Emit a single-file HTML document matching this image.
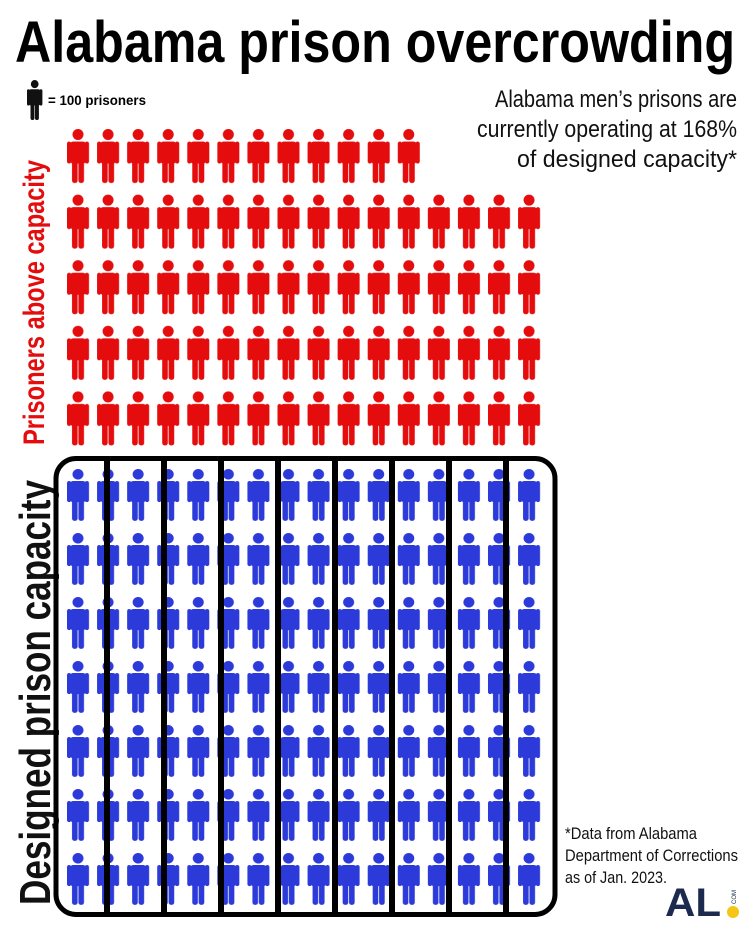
<!DOCTYPE html>
<html><head><meta charset="utf-8">
<style>
html,body{margin:0;padding:0;background:#fff;}
svg{display:block;}
</style></head>
<body>
<svg width="744" height="931" viewBox="0 0 744 931" xmlns="http://www.w3.org/2000/svg" font-family="Liberation Sans Narrow, Liberation Sans, sans-serif">
<defs>
<g id="p">
<circle cx="11" cy="5.5" r="5.5"/>
<rect x="0" y="12.5" width="4.2" height="22" rx="2.1"/>
<rect x="17.8" y="12.5" width="4.2" height="22" rx="2.1"/>
<rect x="3" y="12.5" width="16" height="22" rx="3"/>
<rect x="5" y="30" width="5.6" height="24" rx="2.5"/>
<rect x="11.4" y="30" width="5.6" height="24" rx="2.5"/>
</g>
<pattern id="red" patternUnits="userSpaceOnUse" x="67" y="129" width="30.07" height="65.6">
<use href="#p" fill="#e40c0c"/>
</pattern>
<pattern id="blue" patternUnits="userSpaceOnUse" x="67" y="469" width="30.07" height="64">
<use href="#p" fill="#2b3ad8" transform="scale(1,0.96)"/>
</pattern>
</defs>

<text x="15" y="62" font-size="58" font-weight="bold" textLength="720" lengthAdjust="spacingAndGlyphs">Alabama prison overcrowding</text>

<use href="#p" fill="#111" transform="translate(27,80) scale(0.7,0.74)"/>
<text x="48" y="105" font-size="14" font-weight="bold" font-family="Liberation Sans, sans-serif" textLength="98" lengthAdjust="spacingAndGlyphs">= 100 prisoners</text>

<g font-size="24" fill="#111" text-anchor="end">
<text x="737" y="107" textLength="242" lengthAdjust="spacingAndGlyphs">Alabama men’s prisons are</text>
<text x="737" y="137" textLength="260" lengthAdjust="spacingAndGlyphs">currently operating at 168%</text>
<text x="737" y="167" textLength="220" lengthAdjust="spacingAndGlyphs">of designed capacity*</text>
</g>

<text transform="translate(44,445) rotate(-90)" font-size="30" font-weight="bold" fill="#e40c0c" font-family="Liberation Sans, sans-serif" textLength="285" lengthAdjust="spacingAndGlyphs">Prisoners above capacity</text>
<text transform="translate(50,905) rotate(-90)" font-size="44" font-weight="bold" fill="#111" font-family="Liberation Sans, sans-serif" textLength="425" lengthAdjust="spacingAndGlyphs">Designed prison capacity</text>

<rect x="67" y="129" width="353" height="65.6" fill="url(#red)"/>
<rect x="67" y="194.6" width="474" height="262" fill="url(#red)"/>

<rect x="67" y="469" width="474" height="440" fill="url(#blue)"/>

<rect x="56" y="458.5" width="499" height="456" rx="20" fill="none" stroke="#000" stroke-width="5"/>
<g fill="#000">
<rect x="104" y="458" width="6" height="458"/>
<rect x="161" y="458" width="6" height="458"/>
<rect x="218" y="458" width="6" height="458"/>
<rect x="275" y="458" width="6" height="458"/>
<rect x="332" y="458" width="6" height="458"/>
<rect x="389" y="458" width="6" height="458"/>
<rect x="446" y="458" width="6" height="458"/>
<rect x="503" y="458" width="6" height="458"/>
</g>

<g font-size="17" fill="#111">
<text x="565" y="839" textLength="132" lengthAdjust="spacingAndGlyphs">*Data from Alabama</text>
<text x="565" y="861" textLength="173" lengthAdjust="spacingAndGlyphs">Department of Corrections</text>
<text x="565" y="883" textLength="102" lengthAdjust="spacingAndGlyphs">as of Jan. 2023.</text>
</g>

<text x="665" y="916" font-size="40" font-weight="bold" fill="#1c2a4f" font-family="Liberation Sans, sans-serif" textLength="56" lengthAdjust="spacingAndGlyphs">AL</text>
<circle cx="733" cy="912" r="6" fill="#f5c518"/>
<text transform="translate(736,904) rotate(-90)" font-size="6" fill="#1c2a4f" font-family="Liberation Sans, sans-serif">COM</text>
</svg>
</body></html>
